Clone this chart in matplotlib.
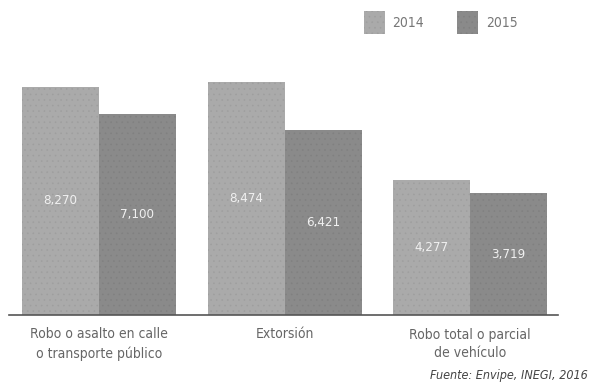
import matplotlib.pyplot as plt
import numpy as np

categorias = ["Robo o asalto en calle\no transporte público", "Extorsión",
              "Robo total o parcial\nde vehículo"]
valores_2014 = [8270, 8474, 4277]
valores_2015 = [7100, 6421, 3719]
etiquetas_2014 = ["8,270", "8,474", "4,277"]
etiquetas_2015 = ["7,100", "6,421", "3,719"]
anios = ["2014", "2015"]

plt.rcParams['font.family'] = ['DejaVu Sans']
plt.rcParams['font.stretch'] = 'condensed'
plt.rcParams['hatch.linewidth'] = 0.4

fig = plt.figure(figsize=(5.9, 3.9), dpi=100)
# linea base de 9 a 558 px, a 315 px desde arriba
ax = fig.add_axes([9/590, 75/390, 549/590, 275/390])

base = -1500
escala = 0.02335  # px por unidad
x = np.arange(len(categorias))
ancho = 0.415

v14 = np.array(valores_2014)
v15 = np.array(valores_2015)
b1 = ax.bar(x - ancho/2, v14 - base, ancho, bottom=base, color='#aaaaaa',
            edgecolor='#9e9e9e', hatch='...', linewidth=0, label=anios[0])
b2 = ax.bar(x + ancho/2, v15 - base, ancho, bottom=base, color='#8a8a8a',
            edgecolor='#808080', hatch='...', linewidth=0, label=anios[1])

for xi, v, t in zip(x - ancho/2, v14, etiquetas_2014):
    ax.text(xi, (v + base)/2, t, ha='center', va='center', color='#f0f0f0', fontsize=9.5)
for xi, v, t in zip(x + ancho/2, v15, etiquetas_2015):
    ax.text(xi, (v + base)/2, t, ha='center', va='center', color='#f0f0f0', fontsize=9.5)

ax.set_xlim(-0.485, 2.474)
ax.set_ylim(base, base + 275/escala)
for s in ['top', 'right', 'left']:
    ax.spines[s].set_visible(False)
ax.spines['bottom'].set_color('#555555')
ax.spines['bottom'].set_linewidth(1.2)
ax.set_yticks([])
ax.set_xticks(x)
ax.set_xticklabels(categorias, fontsize=10, color='#666666', linespacing=1.4)
ax.tick_params(axis='x', length=0, pad=9)

ax.legend(handles=[b1, b2], loc='upper left', bbox_to_anchor=(364/590, 1 - 11/390),
          bbox_transform=fig.transFigure, ncol=2, frameon=False, fontsize=10,
          labelcolor='#777777', handlelength=1.5, handleheight=2.2,
          handletextpad=0.55, columnspacing=2.4, borderpad=0, borderaxespad=0)

fig.text(0.997, 0.02, "Fuente: Envipe, INEGI, 2016", ha='right', va='bottom',
         style='italic', fontsize=9, color='#444444')

fig.savefig('out.png', dpi=100)
